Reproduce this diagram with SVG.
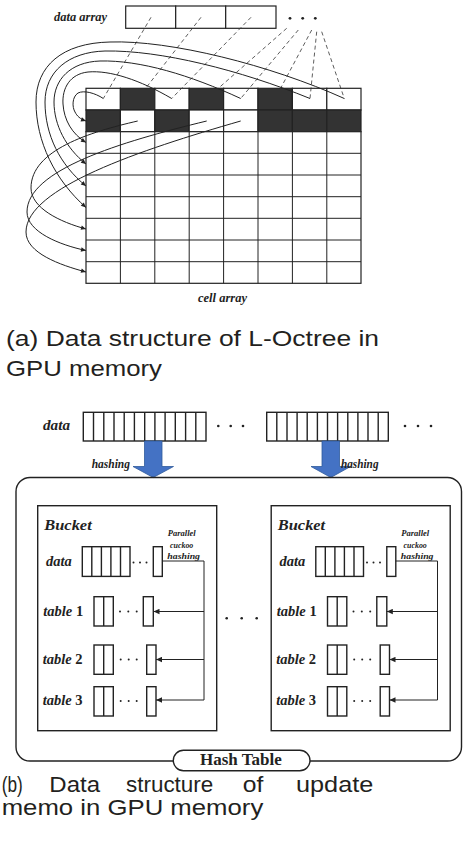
<svg xmlns="http://www.w3.org/2000/svg" width="463" height="845" viewBox="0 0 463 845">
<defs>
<style>
.ln{fill:none;stroke:#222;stroke-width:1}
.ds{fill:none;stroke:#333;stroke-width:0.8;stroke-dasharray:4 3}
.cell{fill:#fff;stroke:#222;stroke-width:1.2}
.dk{fill:#333;stroke:#222;stroke-width:1.2}
.bx{fill:#fff;stroke:#222;stroke-width:1.4}
.thin{fill:none;stroke:#222;stroke-width:1.4}
.lbl{font-family:"Liberation Serif",serif;font-weight:bold;font-style:italic;fill:#222}
.cap{font-family:"Liberation Sans",Arial,sans-serif;font-size:22px;fill:#231f20}
.dot{fill:#222}
.blue{fill:#4472c4;stroke:#2e5a9c;stroke-width:0.8}
</style>
<marker id="ah" viewBox="0 0 10 10" refX="10" refY="5" markerWidth="6" markerHeight="5" markerUnits="userSpaceOnUse" orient="auto"><path d="M0,0.5 L10,5 L0,9.5 z" fill="#222"/></marker>
<marker id="ah2" viewBox="0 0 10 10" refX="10" refY="5" markerWidth="7" markerHeight="6" markerUnits="userSpaceOnUse" orient="auto"><path d="M0,0.5 L10,5 L0,9.5 z" fill="#222"/></marker>
</defs>
<rect width="463" height="845" fill="#fff"/>

<!-- (a) L-Octree -->
<g id="data-array">
<text class="lbl" x="54" y="21" font-size="12.5" textLength="53" lengthAdjust="spacingAndGlyphs">data array</text>
<rect class="cell" x="125.7" y="6" width="50" height="22.3"/>
<rect class="cell" x="175.7" y="6" width="50" height="22.3"/>
<rect class="cell" x="225.7" y="6" width="50.3" height="22.3"/>
<circle class="dot" cx="290" cy="18.3" r="1.4"/>
<circle class="dot" cx="302.7" cy="18.3" r="1.4"/>
<circle class="dot" cx="315.3" cy="18.3" r="1.4"/>
</g>

<g id="cell-array">
<g>
<rect class="cell" x="86" y="88.3" width="34.4" height="21.7"/>
<rect class="dk" x="120.4" y="88.3" width="34.4" height="21.7"/>
<rect class="cell" x="154.8" y="88.3" width="34.4" height="21.7"/>
<rect class="dk" x="189.2" y="88.3" width="34.4" height="21.7"/>
<rect class="cell" x="223.6" y="88.3" width="34.4" height="21.7"/>
<rect class="dk" x="258" y="88.3" width="34.4" height="21.7"/>
<rect class="cell" x="292.4" y="88.3" width="34.4" height="21.7"/>
<rect class="cell" x="326.8" y="88.3" width="34.2" height="21.7"/>
<rect class="dk" x="86" y="110" width="34.4" height="21.7"/>
<rect class="cell" x="120.4" y="110" width="34.4" height="21.7"/>
<rect class="dk" x="154.8" y="110" width="34.4" height="21.7"/>
<rect class="cell" x="189.2" y="110" width="34.4" height="21.7"/>
<rect class="cell" x="223.6" y="110" width="34.4" height="21.7"/>
<rect class="dk" x="258" y="110" width="34.4" height="21.7"/>
<rect class="dk" x="292.4" y="110" width="34.4" height="21.7"/>
<rect class="dk" x="326.8" y="110" width="34.2" height="21.7"/>
</g>
<rect class="cell" x="86" y="131.7" width="275" height="151.6"/>
<path class="ln" stroke-width="1.2" d="M86,153.3H361M86,175H361M86,196.7H361M86,218.3H361M86,240H361M86,261.7H361M120.4,131.7V283.3M154.8,131.7V283.3M189.2,131.7V283.3M223.6,131.7V283.3M258,131.7V283.3M292.4,131.7V283.3M326.8,131.7V283.3"/>
<text class="lbl" x="198" y="302" font-size="12.5" textLength="49" lengthAdjust="spacingAndGlyphs">cell array</text>
</g>

<g id="octree-links">
<path class="ds" d="M151,17.3L103.3,98.5"/>
<path class="ds" d="M201,17.3L137.7,98.5"/>
<path class="ds" d="M251,17.3L171.7,98.5"/>
<path class="ds" d="M286.7,28.3L206.7,98.5"/>
<path class="ds" d="M298.3,30L240.7,98.5"/>
<path class="ds" d="M311.7,30L275.7,97.5"/>
<path class="ds" d="M316.7,31.7L310,98.5"/>
<path class="ds" d="M321.7,31.7L344.3,98.5"/>
<path class="ln" marker-end="url(#ah)" d="M103.3,98.5C95,93 84,90 78,93C72,97 72,107 75,112C77,116 80,119 86,121"/>
<path class="ln" marker-end="url(#ah)" d="M171.7,98.5C140,80 110,70 88,72C70,74 62,88 63,104C64,120 72,134 86,142.5"/>
<path class="ln" marker-end="url(#ah)" d="M240.7,98.5C190,75 140,60 100,61C70,62 54,80 54,102C54,125 66,148 86,164"/>
<path class="ln" marker-end="url(#ah)" d="M310,98.5C240,70 160,50 105,51C68,52 45,72 45,102C45,135 60,165 86,186"/>
<path class="ln" marker-end="url(#ah)" d="M344.3,98.5C270,65 170,40 110,42C62,43 36,66 36,102C36,142 55,180 86,207.5"/>
<path class="ln" marker-end="url(#ah)" d="M137.7,121C90,132 31,150 31,188C31,208 60,222 86,229"/>
<path class="ln" marker-end="url(#ah)" d="M206.7,121C120,142 27,170 27,212C27,232 60,245 86,250.5"/>
<path class="ln" marker-end="url(#ah)" d="M240.7,121C140,150 26,188 26,232C26,253 60,265 86,272"/>
</g>

<text class="cap" x="6" y="346" textLength="373" lengthAdjust="spacingAndGlyphs">(a) Data structure of L-Octree in</text>
<text class="cap" x="6" y="376" textLength="156" lengthAdjust="spacingAndGlyphs">GPU memory</text>

<!-- (b) update memo -->
<g id="input-data">
<text class="lbl" x="43" y="430" font-size="14.5" textLength="27" lengthAdjust="spacingAndGlyphs">data</text>
<g id="data-1">
<rect class="bx" x="83.3" y="412.3" width="122.7" height="28.7"/>
<path class="thin" d="M93.5,412.3V441M103.8,412.3V441M114,412.3V441M124.2,412.3V441M134.4,412.3V441M144.7,412.3V441M154.9,412.3V441M165.1,412.3V441M175.3,412.3V441M185.6,412.3V441M195.8,412.3V441"/>
</g>
<circle class="dot" cx="218.3" cy="426" r="1.3"/>
<circle class="dot" cx="230.7" cy="426" r="1.3"/>
<circle class="dot" cx="243" cy="426" r="1.3"/>
<g id="data-2">
<rect class="bx" x="266.7" y="412.3" width="121.6" height="28.7"/>
<path class="thin" d="M276.8,412.3V441M287,412.3V441M297.1,412.3V441M307.2,412.3V441M317.4,412.3V441M327.5,412.3V441M337.6,412.3V441M347.8,412.3V441M357.9,412.3V441M368,412.3V441M378.2,412.3V441"/>
</g>
<circle class="dot" cx="405" cy="426" r="1.3"/>
<circle class="dot" cx="418" cy="426" r="1.3"/>
<circle class="dot" cx="431" cy="426" r="1.3"/>
</g>

<g id="hashing-arrows">
<path class="blue" d="M144.5,441H162V466.5H173.5L153.2,477.5L133,466.5H144.5Z"/>
<text class="lbl" x="91.7" y="467.5" font-size="11.5" textLength="38.3" lengthAdjust="spacingAndGlyphs">hashing</text>
<path class="blue" d="M322,441H339.5V466.5H350.5L330.8,477.5L311,466.5H322Z"/>
<text class="lbl" x="341" y="467.5" font-size="11.5" textLength="37.5" lengthAdjust="spacingAndGlyphs">hashing</text>
</g>

<g id="hash-table">
<rect x="16" y="477.5" width="445.5" height="283.5" rx="14" ry="14" fill="none" stroke="#222" stroke-width="1.4"/>
<circle class="dot" cx="226.7" cy="618.3" r="1.3"/>
<circle class="dot" cx="241.7" cy="618.3" r="1.3"/>
<circle class="dot" cx="256.7" cy="618.3" r="1.3"/>
<rect x="173.3" y="750.2" width="136.7" height="20.5" rx="10.2" ry="10.2" fill="#fff" stroke="#222" stroke-width="1.4"/>
<text x="200" y="765" font-family="Liberation Serif,serif" font-weight="bold" font-size="16" fill="#222" textLength="81.7" lengthAdjust="spacingAndGlyphs">Hash Table</text>
</g>

<g id="bucket-1">
<rect class="bx" x="37.7" y="505.7" width="179" height="225"/>
<text class="lbl" x="44.3" y="530" font-size="14" textLength="47.4" lengthAdjust="spacingAndGlyphs">Bucket</text>
<text class="lbl" x="46" y="566" font-size="14.5" textLength="25.7" lengthAdjust="spacingAndGlyphs">data</text>
<rect class="bx" x="82.3" y="546.7" width="47.7" height="29.7"/>
<path class="thin" d="M91.8,546.7V576.4M101.4,546.7V576.4M110.9,546.7V576.4M120.5,546.7V576.4"/>
<circle class="dot" cx="133.5" cy="562.5" r="1"/><circle class="dot" cx="140" cy="562.5" r="1"/><circle class="dot" cx="146.5" cy="562.5" r="1"/>
<rect class="bx" x="153.3" y="546.7" width="9" height="29.7"/>
<text class="lbl" x="167.7" y="536" font-size="9" textLength="28" lengthAdjust="spacingAndGlyphs">Parallel</text>
<text class="lbl" x="170" y="548" font-size="9" textLength="23.3" lengthAdjust="spacingAndGlyphs">cuckoo</text>
<text class="lbl" x="167.3" y="559" font-size="9" textLength="32.7" lengthAdjust="spacingAndGlyphs">hashing</text>
<text class="lbl" x="43.3" y="615.5" font-size="14.5">table <tspan font-style="normal">1</tspan></text>
<rect class="bx" x="94" y="596.7" width="19.3" height="29.3"/><path class="thin" d="M103.7,596.7V626"/>
<circle class="dot" cx="120" cy="611.5" r="1"/><circle class="dot" cx="128.3" cy="611.5" r="1"/><circle class="dot" cx="136.7" cy="611.5" r="1"/>
<rect class="bx" x="143.3" y="596.7" width="10" height="29.3"/>
<text class="lbl" x="42.7" y="663.5" font-size="14.5">table <tspan font-style="normal">2</tspan></text>
<rect class="bx" x="94" y="645" width="19.3" height="29.3"/><path class="thin" d="M103.7,645V674.3"/>
<circle class="dot" cx="120.7" cy="659.5" r="1"/><circle class="dot" cx="128.7" cy="659.5" r="1"/><circle class="dot" cx="136.7" cy="659.5" r="1"/>
<rect class="bx" x="146.7" y="645" width="9.3" height="29.3"/>
<text class="lbl" x="42.7" y="705.3" font-size="14.5">table <tspan font-style="normal">3</tspan></text>
<rect class="bx" x="94" y="686.7" width="19.3" height="29.3"/><path class="thin" d="M103.7,686.7V716"/>
<circle class="dot" cx="120.7" cy="701" r="1"/><circle class="dot" cx="128.7" cy="701" r="1"/><circle class="dot" cx="136.7" cy="701" r="1"/>
<rect class="bx" x="146.7" y="686.7" width="9.3" height="29.3"/>
</g>

<g id="bucket-2">
<rect class="bx" x="271.2" y="505.7" width="179" height="225"/>
<text class="lbl" x="277.8" y="530" font-size="14" textLength="47.4" lengthAdjust="spacingAndGlyphs">Bucket</text>
<text class="lbl" x="279.5" y="566" font-size="14.5" textLength="25.7" lengthAdjust="spacingAndGlyphs">data</text>
<rect class="bx" x="315.8" y="546.7" width="47.7" height="29.7"/>
<path class="thin" d="M325.3,546.7V576.4M334.9,546.7V576.4M344.4,546.7V576.4M354,546.7V576.4"/>
<circle class="dot" cx="367" cy="562.5" r="1"/><circle class="dot" cx="373.5" cy="562.5" r="1"/><circle class="dot" cx="380" cy="562.5" r="1"/>
<rect class="bx" x="386.8" y="546.7" width="9" height="29.7"/>
<text class="lbl" x="401.2" y="536" font-size="9" textLength="28" lengthAdjust="spacingAndGlyphs">Parallel</text>
<text class="lbl" x="403.5" y="548" font-size="9" textLength="23.3" lengthAdjust="spacingAndGlyphs">cuckoo</text>
<text class="lbl" x="400.8" y="559" font-size="9" textLength="32.7" lengthAdjust="spacingAndGlyphs">hashing</text>
<text class="lbl" x="276.8" y="615.5" font-size="14.5">table <tspan font-style="normal">1</tspan></text>
<rect class="bx" x="327.5" y="596.7" width="19.3" height="29.3"/><path class="thin" d="M337.2,596.7V626"/>
<circle class="dot" cx="353.5" cy="611.5" r="1"/><circle class="dot" cx="361.8" cy="611.5" r="1"/><circle class="dot" cx="370.2" cy="611.5" r="1"/>
<rect class="bx" x="376.8" y="596.7" width="10" height="29.3"/>
<text class="lbl" x="276.2" y="663.5" font-size="14.5">table <tspan font-style="normal">2</tspan></text>
<rect class="bx" x="327.5" y="645" width="19.3" height="29.3"/><path class="thin" d="M337.2,645V674.3"/>
<circle class="dot" cx="354.2" cy="659.5" r="1"/><circle class="dot" cx="362.2" cy="659.5" r="1"/><circle class="dot" cx="370.2" cy="659.5" r="1"/>
<rect class="bx" x="380.2" y="645" width="9.3" height="29.3"/>
<text class="lbl" x="276.2" y="705.3" font-size="14.5">table <tspan font-style="normal">3</tspan></text>
<rect class="bx" x="327.5" y="686.7" width="19.3" height="29.3"/><path class="thin" d="M337.2,686.7V716"/>
<circle class="dot" cx="354.2" cy="701" r="1"/><circle class="dot" cx="362.2" cy="701" r="1"/><circle class="dot" cx="370.2" cy="701" r="1"/>
<rect class="bx" x="380.2" y="686.7" width="9.3" height="29.3"/>
</g>

<g id="cuckoo-links">
<path class="ln" d="M162.3,561H204V700"/>
<path class="ln" marker-end="url(#ah2)" d="M204,611.5H153.5"/>
<path class="ln" marker-end="url(#ah2)" d="M204,659.5H156"/>
<path class="ln" marker-end="url(#ah2)" d="M204,700H156"/>
<path class="ln" d="M395.8,561H437.5V700"/>
<path class="ln" marker-end="url(#ah2)" d="M437.5,611.5H386.8"/>
<path class="ln" marker-end="url(#ah2)" d="M437.5,659.5H389.5"/>
<path class="ln" marker-end="url(#ah2)" d="M437.5,700H389.5"/>
</g>

<text class="cap" x="1.7" y="791.5" textLength="21" lengthAdjust="spacingAndGlyphs">(b)</text>
<text class="cap" x="49.3" y="791.5" textLength="50.7" lengthAdjust="spacingAndGlyphs">Data</text>
<text class="cap" x="126" y="791.5" textLength="87.3" lengthAdjust="spacingAndGlyphs">structure</text>
<text class="cap" x="242.7" y="791.5" textLength="20.6" lengthAdjust="spacingAndGlyphs">of</text>
<text class="cap" x="296" y="791.5" textLength="77.3" lengthAdjust="spacingAndGlyphs">update</text>
<text class="cap" x="1.7" y="815" textLength="261.6" lengthAdjust="spacingAndGlyphs">memo in GPU memory</text>
</svg>
